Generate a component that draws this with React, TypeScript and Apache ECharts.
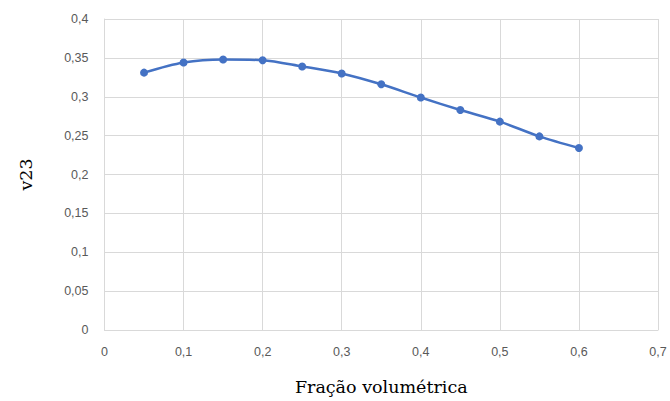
import React, { useEffect, useRef } from "react";
import * as echarts from "echarts";

// Fração volumétrica vs. coeficiente de Poisson v23
const fracao: number[] = [0.05, 0.1, 0.15, 0.2, 0.25, 0.3, 0.35, 0.4, 0.45, 0.5, 0.55, 0.6];
const v23: number[] = [0.331, 0.344, 0.348, 0.347, 0.339, 0.33, 0.316, 0.299, 0.283, 0.268, 0.249, 0.234];

const xAxisName = "Fração volumétrica";
const yAxisName = "v23";

const commaDecimal = (v: number) => String(Number(v.toFixed(2))).replace(".", ",");

export default function App() {
  const ref = useRef<HTMLDivElement>(null);

  useEffect(() => {
    if (!ref.current) return;
    const chart = echarts.init(ref.current, undefined, { renderer: "svg" });
    const gridColor = "#d9d9d9";
    const labelStyle = { color: "#595959", fontSize: 12.5, fontFamily: "Liberation Sans, Arial, sans-serif" };
    const nameStyle = { color: "#000000", fontSize: 17.5, fontFamily: "DejaVu Serif, serif" };
    chart.setOption({
      animation: false,
      backgroundColor: "#ffffff",
      grid: { left: 104.5, right: 12, top: 19, bottom: 71, containLabel: false },
      xAxis: {
        type: "value",
        min: 0,
        max: 0.7,
        interval: 0.1,
        name: xAxisName,
        nameLocation: "middle",
        nameGap: 48,
        nameTextStyle: nameStyle,
        axisLine: { show: true, lineStyle: { color: gridColor, width: 1 } },
        axisTick: { show: false },
        axisLabel: { ...labelStyle, margin: 15, formatter: commaDecimal },
        splitLine: { show: true, lineStyle: { color: gridColor, width: 1 } },
      },
      yAxis: {
        type: "value",
        min: 0,
        max: 0.4,
        interval: 0.05,
        name: yAxisName,
        nameLocation: "middle",
        nameGap: 70,
        nameRotate: 90,
        nameTextStyle: nameStyle,
        axisLine: { show: true, lineStyle: { color: gridColor, width: 1 } },
        axisTick: { show: false },
        axisLabel: { ...labelStyle, margin: 16, formatter: commaDecimal },
        splitLine: { show: true, lineStyle: { color: gridColor, width: 1 } },
      },
      series: [
        {
          type: "line",
          data: fracao.map((x, i) => [x, v23[i]]),
          smooth: 0.3,
          symbol: "circle",
          symbolSize: 8,
          lineStyle: { color: "#4472c4", width: 2.5 },
          itemStyle: { color: "#4472c4" },
        },
      ],
    });
    return () => chart.dispose();
  }, []);

  return (
    <div
      ref={ref}
      style={{ position: "absolute", left: 0, top: 0, width: 670, height: 401 }}
    />
  );
}
